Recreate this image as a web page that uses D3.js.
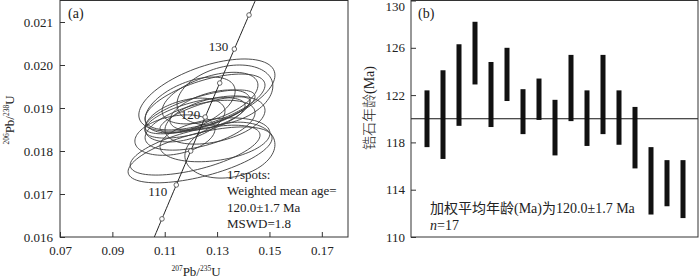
<!DOCTYPE html>
<html>
<head>
<meta charset="utf-8">
<script src="https://cdn.jsdelivr.net/npm/d3@7"></script>
<style>
  body { margin: 0; background: #fff; }
  text { font-family: "Liberation Serif", "Times New Roman", "Noto Sans CJK SC", serif; fill: #222; }
</style>
</head>
<body>
<div id="chart"></div>
<script>
// ---- panel (a): U-Pb concordia, 17 spots ----
// 207Pb/235U, 2s error, 206Pb/238U, 2s error, rho
var r75  = [0.1261, 0.1254, 0.1273, 0.1330, 0.1235, 0.1254, 0.1216, 0.1273, 0.1197, 0.1292, 0.1235, 0.1177, 0.1235, 0.1216, 0.1349, 0.1292, 0.1139]
var e75  = [0.0260, 0.0229, 0.0183, 0.0183, 0.0210, 0.0172, 0.0191, 0.0153, 0.0172, 0.0191, 0.0210, 0.0153, 0.0275, 0.0248, 0.0172, 0.0210, 0.0153]
var r68  = [0.01930, 0.01914, 0.01923, 0.01930, 0.01891, 0.01884, 0.01877, 0.01895, 0.01907, 0.01872, 0.01860, 0.01872, 0.01791, 0.01802, 0.01802, 0.01826, 0.01837]
var e68  = [0.00084, 0.00065, 0.00060, 0.00070, 0.00051, 0.00042, 0.00047, 0.00047, 0.00065, 0.00056, 0.00058, 0.00051, 0.00065, 0.00058, 0.00065, 0.00051, 0.00047]
var rho  = [0.55, 0.60, 0.50, 0.30, 0.70, 0.75, 0.60, 0.50, 0.50, 0.40, 0.50, 0.40, 0.60, 0.60, 0.20, 0.30, 0.30]

var xTicksA = [0.07, 0.09, 0.11, 0.13, 0.15, 0.17]
var yTicksA = [0.016, 0.017, 0.018, 0.019, 0.020, 0.021]
var markAges = [105, 110, 115, 120, 125, 130, 135]
var labelAges = [110, 120, 130]
var notesA = ["17spots:", "Weighted mean age=", "120.0\u00b11.7 Ma", "MSWD=1.8"]

// ---- panel (b): spot ages (Ma), bar = age +/- error ----
var ageLo = [117.6, 116.6, 119.4, 122.9, 119.3, 121.5, 118.7, 119.9, 116.9, 119.8, 117.7, 118.7, 117.8, 115.8, 111.9, 112.6, 111.6]
var ageHi = [122.4, 124.1, 126.3, 128.2, 124.8, 126.0, 122.5, 123.4, 121.6, 125.4, 122.4, 125.4, 122.4, 121.0, 117.6, 116.5, 116.5]
var meanAge = 120.0
var yTicksB = [110, 114, 118, 122, 126, 130]

var L238 = 1.55125e-10, L235 = 9.8485e-10
function conc(t) { return [Math.exp(L235 * t * 1e6) - 1, Math.exp(L238 * t * 1e6) - 1] }

var svg = d3.select("#chart").append("svg")
    .attr("width", 700)
    .attr("height", 278)

// ================= panel a =================
var x = d3.scaleLinear().domain([0.07, 0.18]).range([60, 348])
var y = d3.scaleLinear().domain([0.016, 0.0215]).range([237, 0.5])

svg.append("clipPath").attr("id", "clipA")
  .append("rect").attr("x", 60).attr("y", 0.5).attr("width", 288).attr("height", 236.5)

var gA = svg.append("g")

// ellipses
var ell = d3.range(r75.length).map(function(i) {
  var pts = d3.range(0, 361, 4).map(function(a) {
    var th = a * Math.PI / 180
    var dx = e75[i] * Math.cos(th)
    var dy = e68[i] * (rho[i] * Math.cos(th) + Math.sqrt(1 - rho[i] * rho[i]) * Math.sin(th))
    return [x(r75[i] + dx), y(r68[i] + dy)]
  })
  return pts
})
gA.append("g").attr("clip-path", "url(#clipA)")
  .selectAll("path").data(ell).enter()
  .append("path")
    .attr("d", d3.line())
    .attr("fill", "none")
    .attr("stroke", "#3a3a3a")
    .attr("stroke-width", 0.9)

// concordia
var cAges = d3.range(95, 145.5, 0.5)
gA.append("path")
  .attr("clip-path", "url(#clipA)")
  .datum(cAges.map(conc))
  .attr("d", d3.line().x(function(d) { return x(d[0]) }).y(function(d) { return y(d[1]) }))
  .attr("fill", "none")
  .attr("stroke", "#222")
  .attr("stroke-width", 1)

gA.append("g").attr("clip-path", "url(#clipA)")
  .selectAll("circle").data(markAges).enter()
  .append("circle")
    .attr("cx", function(d) { return x(conc(d)[0]) })
    .attr("cy", function(d) { return y(conc(d)[1]) })
    .attr("r", 2.3)
    .attr("fill", "#fff")
    .attr("stroke", "#444")
    .attr("stroke-width", 0.8)

var lblOff = {110: [-9, 11], 120: [-5, 2], 130: [-6, 2]}
gA.selectAll(".agelbl").data(labelAges).enter()
  .append("text")
    .attr("class", "agelbl")
    .attr("x", function(d) { return x(conc(d)[0]) + lblOff[d][0] })
    .attr("y", function(d) { return y(conc(d)[1]) + lblOff[d][1] })
    .attr("text-anchor", "end")
    .style("font-size", "13px")
    .text(function(d) { return d })

// axes
gA.append("g")
  .attr("class", "axA")
  .attr("transform", "translate(0,237)")
  .call(d3.axisBottom(x).tickValues(xTicksA).tickSize(-5).tickPadding(9).tickFormat(d3.format(".2f")))
gA.append("g")
  .attr("class", "axA")
  .attr("transform", "translate(60,0)")
  .call(d3.axisLeft(y).tickValues(yTicksA).tickSize(-5).tickPadding(7).tickFormat(d3.format(".3f")))
gA.selectAll(".axA").attr("font-family", null).attr("font-size", null)
gA.selectAll(".domain").remove()
gA.selectAll(".tick text").style("font-size", "13px")
gA.selectAll(".tick line").attr("stroke", "#333")

gA.append("rect")
  .attr("x", 60).attr("y", 0.5).attr("width", 288).attr("height", 236.5)
  .attr("fill", "none").attr("stroke", "#333").attr("stroke-width", 1)

gA.append("text").attr("x", 68).attr("y", 18).style("font-size", "14px").text("(a)")

gA.selectAll(".note").data(notesA).enter()
  .append("text")
    .attr("x", 227)
    .attr("y", function(d, i) { return 178.5 + i * 16.5 })
    .style("font-size", "13px")
    .text(function(d) { return d })

// axis labels with superscripts
var xl = gA.append("text").attr("x", 196).attr("y", 276).attr("text-anchor", "middle").style("font-size", "13px")
xl.append("tspan").attr("font-size", "7.5px").attr("dy", -5).text("207")
xl.append("tspan").attr("dy", 5).text("Pb/")
xl.append("tspan").attr("font-size", "7.5px").attr("dy", -5).text("235")
xl.append("tspan").attr("dy", 5).text("U")

var yl = gA.append("text").attr("transform", "translate(14,120) rotate(-90)").attr("text-anchor", "middle").style("font-size", "13px")
yl.append("tspan").attr("font-size", "7.5px").attr("dy", -5).text("206")
yl.append("tspan").attr("dy", 5).text("Pb/")
yl.append("tspan").attr("font-size", "7.5px").attr("dy", -5).text("238")
yl.append("tspan").attr("dy", 5).text("U")

// ================= panel b =================
var xb = d3.scaleLinear().domain([0, 18]).range([411, 699])
var yb = d3.scaleLinear().domain([110, 130]).range([237, 0.5])
var gB = svg.append("g")

gB.append("g")
  .attr("class", "axB")
  .attr("transform", "translate(411,0)")
  .call(d3.axisLeft(yb).tickValues(yTicksB).tickSize(-5).tickPadding(6).tickFormat(d3.format("d")))
gB.selectAll(".axB").attr("font-family", null).attr("font-size", null)
gB.selectAll(".domain").remove()
gB.selectAll(".tick text").style("font-size", "13px")
  .filter(function(d) { return d == 130 }).attr("dy", "0.75em")
gB.selectAll(".tick line").attr("stroke", "#333")

gB.selectAll(".bar").data(ageLo).enter()
  .append("rect")
    .attr("class", "bar")
    .attr("x", function(d, i) { return xb(i + 1) - 2.5 })
    .attr("y", function(d, i) { return yb(ageHi[i]) })
    .attr("width", 5)
    .attr("height", function(d, i) { return yb(d) - yb(ageHi[i]) })
    .attr("fill", "#111")

gB.append("line")
  .attr("x1", 411).attr("x2", 698)
  .attr("y1", yb(meanAge)).attr("y2", yb(meanAge))
  .attr("stroke", "#111").attr("stroke-width", 1.2)

gB.append("rect")
  .attr("x", 411).attr("y", 0.5).attr("width", 287).attr("height", 236.5)
  .attr("fill", "none").attr("stroke", "#333").attr("stroke-width", 1)

gB.append("text").attr("x", 418).attr("y", 18).style("font-size", "14px").text("(b)")
gB.append("text").attr("x", 430).attr("y", 213).style("font-size", "14px")
  .text("加权平均年龄(Ma)为120.0\u00b11.7 Ma")
var nt = gB.append("text").attr("x", 430).attr("y", 230).style("font-size", "14px")
nt.append("tspan").style("font-style", "italic").text("n")
nt.append("tspan").text("=17")

gB.append("text").attr("transform", "translate(374,108) rotate(-90)")
  .attr("text-anchor", "middle").style("font-size", "14px").style("font-weight", "300").text("锆石年龄(Ma)")
</script>
</body>
</html>
